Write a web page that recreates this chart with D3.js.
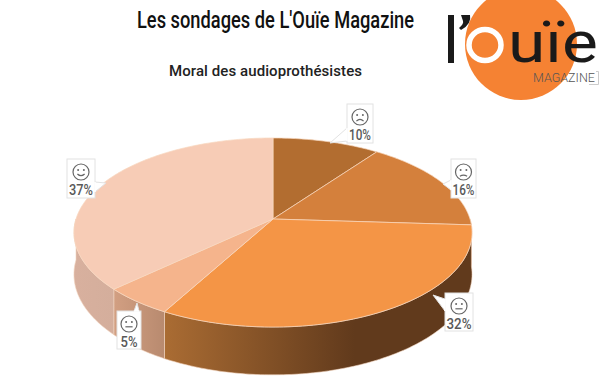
<!DOCTYPE html>
<html>
<head>
<meta charset="utf-8">
<script src="https://cdn.jsdelivr.net/npm/d3@7"></script>
<style>
  html, body { margin: 0; padding: 0; background: #fff; }
  svg { display: block; }
  text { font-family: Roboto, sans-serif; }
</style>
</head>
<body>
<svg id="chart" width="600" height="384"></svg>
<script>
// data, clockwise from 12 o'clock
let moods = ["tres-triste", "triste", "neutre-bas", "neutre", "content"];
let percents = [10, 16, 32, 5, 37];
let labels = ["10%", "16%", "32%", "5%", "37%"];
let mouths = [-3.4, -2, 0, 0, 3]; // curve of the mouth on each face

let topColors = ["#b26d30", "#d4803c", "#f49546", "#f5b48c", "#f7ccb6"];
let wallFrom = ["#b26d30", "#d4803c", "#aa6c33", "#d29f82", "#d8b09e"];
let wallTo = ["#b26d30", "#d4803c", "#613a1c", "#b88a6f", "#d4ae9c"];

let svg = d3.select("#chart");

// pie geometry: a tilted disc seen with some perspective
let pieBox = { cx: 273, cy: 219, rx: 197, ry: 92.6, depth: 41, persp: 1 / 7 };

// label boxes: left, top, width, height, tail tip, the two tail points on the box, text width
let boxes = [
  { x: 347, y: 104, w: 26, h: 39, tip: [330, 143], a: [347, 128], b: [347, 141], tw: 22 },
  { x: 451, y: 159, w: 25, h: 39, tip: [443, 184], a: [451, 180], b: [451, 190], tw: 22 },
  { x: 445, y: 293, w: 28, h: 38, tip: [433, 295], a: [445, 299], b: [445, 311], tw: 25 },
  { x: 117, y: 311, w: 24, h: 38, tip: [137, 303], a: [134, 311], b: [139, 311], tw: 17 },
  { x: 67, y: 159, w: 28, h: 39, tip: [106, 183], a: [95, 182], b: [95, 192], tw: 24 }
];

function project(angle, r, drop) {
  let X = Math.sin(angle) * r;
  let V = -Math.cos(angle) * r;
  let s = 1 / (1 - pieBox.persp * V);
  return [pieBox.cx + pieBox.rx * X * s, pieBox.cy + pieBox.ry * V * s + drop * s];
}

let arcs = d3.pie().sort(null).value(d => d)(percents);
let line = d3.line();

function arcPoints(a0, a1, drop) {
  let n = Math.max(2, Math.ceil((a1 - a0) * 60));
  return d3.range(n + 1).map(i => project(a0 + (a1 - a0) * i / n, 1, drop));
}

// ---- titles
svg.append("text")
  .attr("x", 137).attr("y", 28)
  .attr("textLength", 277).attr("lengthAdjust", "spacingAndGlyphs")
  .style("font-size", "23px").style("font-weight", 500).attr("fill", "#111")
  .text("Les sondages de L'Ouïe Magazine");

svg.append("text")
  .attr("x", 169).attr("y", 76)
  .attr("textLength", 193).attr("lengthAdjust", "spacing")
  .style("font-size", "15px").style("font-weight", 500).attr("fill", "#222")
  .text("Moral des audioprothésistes");

// ---- logo
let logo = svg.append("g").attr("id", "logo");
logo.append("circle").attr("cx", 521).attr("cy", 44).attr("r", 56).attr("fill", "#f58233");
logo.append("rect").attr("x", 448).attr("y", 15).attr("width", 6).attr("height", 48).attr("fill", "#1a1a1a");
logo.append("path")
  .attr("d", "M461,15 h9 q2,9 -9,15 l-2,-2 q5,-4 4,-7 z")
  .attr("fill", "#1a1a1a");
logo.append("ellipse")
  .attr("cx", 485).attr("cy", 45).attr("rx", 16).attr("ry", 15.5)
  .attr("fill", "none").attr("stroke", "#fff").attr("stroke-width", 5.5);
logo.append("text")
  .attr("x", 508).attr("y", 62)
  .attr("textLength", 90).attr("lengthAdjust", "spacingAndGlyphs")
  .style("font-size", "57px").attr("fill", "#1a1a1a")
  .text("uïe");
logo.append("text")
  .attr("x", 533).attr("y", 82)
  .attr("textLength", 62).attr("lengthAdjust", "spacingAndGlyphs")
  .style("font-size", "13px").style("font-weight", 300).attr("fill", "#555")
  .text("MAGAZINE");
logo.append("path").attr("d", "M596,71.5 H598.5 V84.5 H589").attr("fill", "none").attr("stroke", "#ccc");

// ---- side of the pie
let defs = svg.append("defs");
let plot = svg.append("g").attr("id", "plot");

arcs.forEach((d, i) => {
  // only the front half of the rim shows
  let a0 = Math.max(d.startAngle, Math.PI / 2);
  let a1 = Math.min(d.endAngle, Math.PI * 1.5);
  if (a1 <= a0) return;

  let front = arcPoints(a0, a1, 0);
  let back = arcPoints(a0, a1, pieBox.depth).reverse();
  let xs = front.map(p => p[0]);

  let grad = defs.append("linearGradient")
    .attr("id", "wall" + i)
    .attr("gradientUnits", "userSpaceOnUse")
    .attr("x1", d3.min(xs)).attr("x2", i == 2 ? d3.min(xs) + 190 : d3.max(xs))
    .attr("y1", 0).attr("y2", 0);
  grad.append("stop").attr("offset", 0).attr("stop-color", wallFrom[i]);
  grad.append("stop").attr("offset", 1).attr("stop-color", wallTo[i]);

  plot.append("path")
    .attr("class", "wall")
    .attr("d", line(front.concat(back)) + "Z")
    .attr("fill", "url(#wall" + i + ")")
    .attr("stroke", "#f1d3bd")
    .attr("stroke-width", 0.6);
});

// ---- top of the pie
plot.selectAll(".slice")
  .data(arcs)
  .join("path")
  .attr("class", "slice")
  .attr("d", d => line([project(0, 0, 0)].concat(arcPoints(d.startAngle, d.endAngle, 0))) + "Z")
  .attr("fill", (d, i) => topColors[i])
  .attr("stroke", "#f8d8c0")
  .attr("stroke-width", 0.7)
  .attr("stroke-linejoin", "round");

// ---- label boxes with a tail, a face and the value
let tags = svg.append("g").attr("id", "tags")
  .selectAll("g")
  .data(boxes)
  .join("g")
  .attr("id", (d, i) => moods[i]);

tags.append("rect")
  .attr("x", d => d.x).attr("y", d => d.y)
  .attr("width", d => d.w).attr("height", d => d.h)
  .attr("fill", "#fff")
  .attr("stroke", "#e2e2e2");

// tail goes over the box edge so the border is open where it joins
tags.append("path")
  .attr("d", d => line([d.a, d.tip, d.b]))
  .attr("fill", "#fff")
  .attr("stroke", "#e2e2e2");
tags.append("path")
  .attr("d", d => line([d.a, d.b]))
  .attr("fill", "none")
  .attr("stroke", "#fff")
  .attr("stroke-width", 1.5);

let faces = tags.append("g")
  .attr("transform", d => translate(d.x + d.w / 2, d.y + 13))
  .attr("fill", "none")
  .attr("stroke", "#666")
  .attr("stroke-width", 1.2);

faces.append("circle").attr("r", 8);
faces.append("circle").attr("cx", -2.9).attr("cy", -2).attr("r", 1).attr("fill", "#666").attr("stroke", "none");
faces.append("circle").attr("cx", 2.9).attr("cy", -2).attr("r", 1).attr("fill", "#666").attr("stroke", "none");
faces.append("path")
  .attr("d", (d, i) => {
    let c = mouths[i];
    let y = c < 0 ? 4.2 : c > 0 ? 2 : 2.8;
    return `M-3.6,${y} Q0,${y + c * 1.1} 3.6,${y}`;
  });

tags.append("text")
  .attr("x", d => d.x + d.w / 2)
  .attr("y", d => d.y + 36)
  .attr("text-anchor", "middle")
  .attr("textLength", d => d.tw)
  .attr("lengthAdjust", "spacingAndGlyphs")
  .style("font-size", "15px")
  .style("font-weight", 500)
  .attr("fill", "#595959")
  .text((d, i) => labels[i]);

function translate(x, y) {
  return 'translate(' + x + ',' + y + ')';
}
</script>
</body>
</html>
